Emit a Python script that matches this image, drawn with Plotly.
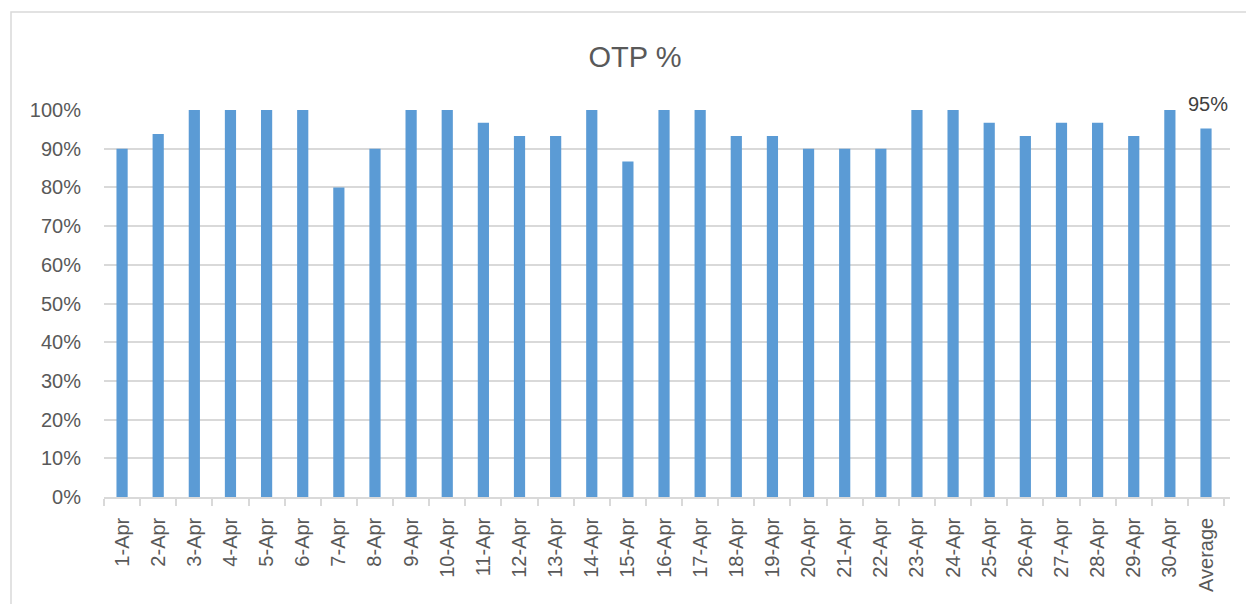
import plotly.graph_objects as go

categories = [f"{d}-Apr" for d in range(1, 31)] + ["Average"]
otp = [0.90, 0.938, 1.0, 1.0, 1.0, 1.0, 0.80, 0.90, 1.0, 1.0,
       0.967, 0.933, 0.933, 1.0, 0.867, 1.0, 1.0, 0.933, 0.933, 0.90,
       0.90, 0.90, 1.0, 1.0, 0.967, 0.933, 0.967, 0.967, 0.933, 1.0,
       0.952]
avg_label = "95%"
y_ticks = [i / 10 for i in range(11)]
y_tick_text = [f"{i*10}%" for i in range(11)]

FONT = "Liberation Sans"
GREY = "#595959"

fig = go.Figure()
fig.add_trace(go.Bar(x=categories, y=otp, marker=dict(color="#5b9bd5", line=dict(width=0)),
                     hoverinfo="x+y"))

fig.add_annotation(x=categories[-1], y=otp[-1], text=avg_label, showarrow=False,
                   yanchor="bottom", yshift=12, xshift=2,
                   font=dict(family=FONT, size=20, color="#404040"))

# outer chart border
fig.add_shape(type="rect", xref="paper", yref="paper",
              x0=-0.0826, x1=1.2, y0=-0.5, y1=1.253,
              line=dict(color="#d9d9d9", width=1.5), layer="below")

fig.update_layout(
    width=1246, height=596,
    margin=dict(l=96, r=24, t=102, b=107),
    paper_bgcolor="white", plot_bgcolor="white",
    bargap=0.69,
    showlegend=False,
    title=dict(text="OTP %", xref="paper", x=0.4716, xanchor="center",
               y=1 - 49 / 596, yanchor="middle",
               font=dict(family=FONT, size=29, color=GREY)),
    font=dict(family=FONT, size=20, color=GREY),
    xaxis=dict(type="category", tickangle=-90, tickson="boundaries",
               ticks="outside", ticklen=7, tickcolor="#d9d9d9", tickwidth=1.5,
               showline=True, linecolor="#d9d9d9", linewidth=1.5,
               showgrid=False, tickfont=dict(family=FONT, size=20, color=GREY),
               ticklabelstandoff=11),
    yaxis=dict(range=[0, 1.0], tickvals=y_ticks, ticktext=y_tick_text,
               showgrid=True, gridcolor="#d9d9d9", gridwidth=1.5,
               zeroline=False, showline=False, ticks="",
               tickfont=dict(family=FONT, size=20, color=GREY),
               ticklabelstandoff=22),
)

fig.write_html("out.html")
